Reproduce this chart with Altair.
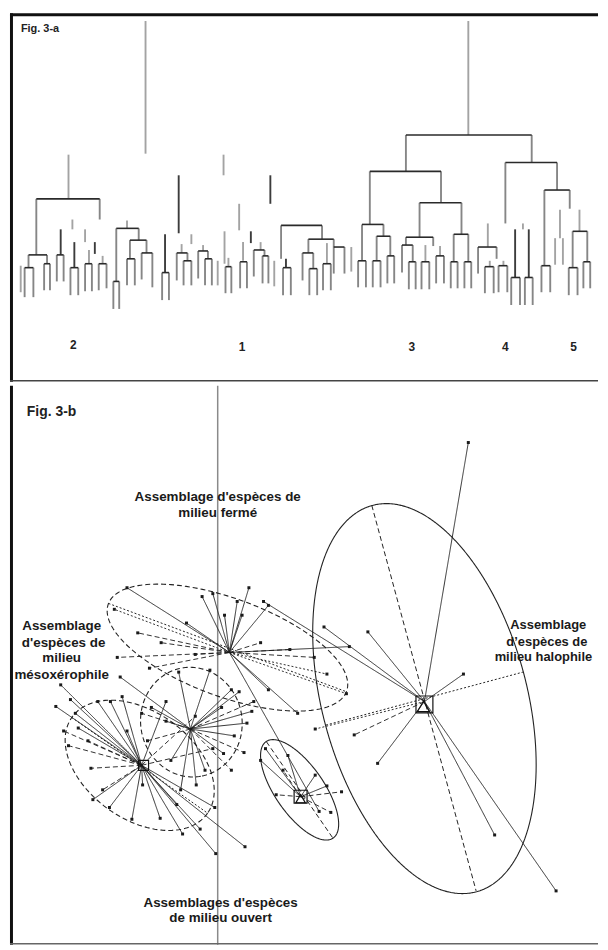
import altair as alt
import numpy as np
import pandas as pd

# page-fitting sizes (608 x 950 window, 8px body margin)
W = 592
H_TOP = 371
H_BOT = 563
X_DOM = [5, 608]

# ---------------- Fig. 3-a : dendrogram ----------------
# single vertical branches: leaf-axis position, upper level, lower level, tone
STEM_X = [144, 475, 65, 224, 178, 272, 69, 82, 92, 125, 164, 191, 240, 225, 252, 244, 218, 276, 355, 531,
          523, 537, 569, 564, 572, 589, 495, 16, 57, 71, 86, 100, 181, 203, 229, 262, 288, 330, 431, 446, 497, 511]
STEM_TOP = [11, 11, 147, 147, 168, 168, 213, 223, 236, 214, 228, 228, 197, 225, 225, 236, 255, 255, 241, 217,
            223, 223, 203, 232, 232, 203, 217, 260, 223, 236, 244, 250, 238, 239, 252, 236, 253, 237, 239, 240, 255, 255]
STEM_BOT = [146, 127, 192, 168, 227, 197, 223, 236, 248, 222, 267, 238, 224, 258, 237, 255, 280, 281, 266, 223,
            272, 272, 232, 259, 259, 225, 241, 287, 249, 262, 258, 258, 247, 245, 261, 244, 262, 258, 256, 250, 261, 260]
STEM_TONE = ["g", "g", "g", "g", "d", "d", "g", "g", "d", "g", "d", "g", "g", "g", "d", "g", "g", "g", "g", "g",
             "d", "d", "g", "g", "g", "g", "g", "g", "d", "d", "g", "g", "g", "g", "g", "g", "d", "g", "g", "g", "g", "g"]

# fusions: left position, right position, fusion level, lower end of left leg, lower end of right leg
LINK_XL = [411, 374, 513, 553, 32, 24, 20, 40, 53, 67, 82, 96, 114, 111, 128, 125, 140, 161, 176, 183, 198, 205,
           226, 241, 255, 264, 283, 285, 311, 305, 312, 326, 337, 366, 362, 381, 377, 392, 425, 411, 407, 414,
           427, 442, 460, 457, 471, 485, 492, 506, 519, 533, 550, 582, 578, 593]
LINK_XR = [540, 447, 566, 579, 97, 43, 29, 46, 60, 75, 89, 104, 137, 117, 145, 133, 151, 168, 187, 191, 208, 212,
           232, 248, 266, 270, 325, 293, 337, 316, 320, 334, 348, 388, 370, 395, 385, 399, 468, 439, 418, 421,
           435, 450, 475, 464, 478, 504, 501, 515, 528, 541, 559, 597, 587, 600]
LINK_Y = [127, 164, 155, 183, 192, 249, 262, 258, 249, 262, 258, 258, 222, 276, 234, 253, 247, 267, 247, 255, 245, 253,
          261, 256, 244, 250, 219, 262, 233, 247, 263, 258, 241, 218, 255, 230, 255, 250, 196, 231, 239, 256,
          256, 250, 228, 256, 256, 241, 261, 260, 272, 272, 260, 225, 262, 256]
LINK_BL = [164, 218, 217, 260, 249, 262, 292, 285, 276, 290, 286, 285, 276, 304, 253, 280, 274, 295, 275, 280, 273, 280,
           288, 283, 271, 278, 253, 290, 247, 275, 290, 285, 268, 255, 282, 255, 282, 278, 231, 239, 267, 284,
           284, 278, 256, 283, 283, 268, 288, 287, 300, 300, 287, 262, 290, 283]
LINK_BR = [155, 196, 183, 202, 213, 258, 292, 285, 276, 290, 286, 283, 234, 304, 247, 280, 282, 295, 255, 280, 253, 280,
           288, 283, 250, 278, 233, 290, 241, 263, 290, 285, 268, 230, 282, 250, 282, 278, 228, 240, 256, 284,
           284, 278, 256, 283, 283, 253, 288, 287, 300, 300, 287, 256, 290, 283]

CLUSTER_LABEL = ["2", "1", "3", "4", "5"]
CLUSTER_X = [70, 243, 417, 513, 583]
CLUSTER_Y = [341, 343, 343, 343, 343]

# ---------------- Fig. 3-b : ordination ----------------
ZERO_X = [218]

GROUP_NAME = ["halophile", "ferme", "meso", "ouvert", "petit"]
CENTROID_X = [430, 230, 190, 140, 303]
CENTROID_Y = [700, 650, 728, 765, 797]

SITE_X_HALO = [475, 327, 372, 470, 358, 382, 565, 502, 265, 318]
SITE_Y_HALO = [436, 624, 629, 672, 734, 763, 893, 836, 598, 728]
SITE_S_HALO = ["s", "s", "s", "s", "d", "s", "s", "s", "s", "o"]

SITE_X_FERME = [125, 250, 202, 225, 243, 262, 186, 136, 115, 353, 317, 148, 270, 322, 112, 350, 292,
                213, 238, 270, 160, 300, 195, 330]
SITE_Y_FERME = [584, 584, 593, 612, 612, 640, 620, 630, 655, 644, 655, 666, 688, 812, 606, 692, 647,
                590, 598, 602, 640, 712, 652, 672]
SITE_S_FERME = ["s", "s", "s", "s", "s", "d", "s", "d", "d", "s", "d", "d", "s", "s", "o", "o", "d",
                "s", "s", "s", "d", "s", "d", "o"]

SITE_X_MESO = [178, 210, 232, 222, 165, 146, 245, 224, 118, 196, 180, 232, 150, 253, 240, 255, 248, 235, 140, 205, 170]
SITE_Y_MESO = [670, 668, 688, 706, 720, 740, 752, 753, 675, 785, 790, 770, 706, 710, 690, 700, 722, 735, 712, 770, 760]
SITE_S_MESO = ["s", "s", "s", "s", "s", "d", "d", "s", "s", "s", "s", "d", "s", "s", "s", "d", "s", "s", "d", "s", "s"]

SITE_X_OUV = [57, 67, 108, 75, 65, 88, 107, 159, 182, 216, 246, 215, 176, 141, 165, 195, 213, 100, 125, 85,
              52, 72, 95, 120, 60, 90, 130, 200]
SITE_Y_OUV = [683, 698, 700, 727, 745, 768, 808, 819, 835, 855, 848, 808, 805, 785, 700, 715, 748, 790, 730, 740,
              705, 712, 700, 695, 730, 800, 820, 830]
SITE_S_OUV = ["s", "s", "s", "s", "d", "d", "s", "s", "s", "s", "s", "s", "s", "s", "s", "d", "d", "d", "s", "d",
              "s", "s", "s", "s", "d", "s", "s", "s"]

SITE_X_PETIT = [267, 285, 330, 334, 345, 278, 318, 262, 290]
SITE_Y_PETIT = [748, 770, 786, 813, 792, 795, 775, 760, 755]
SITE_S_PETIT = ["s", "d", "s", "d", "d", "d", "s", "s", "s"]

# dispersion ellipses: centre, half axes, tilt (degrees), line style
ELL_CX = [430, 228, 191, 138, 302]
ELL_CY = [697, 645, 721, 765, 790]
ELL_A = [204, 130, 56, 85, 60]
ELL_B = [105, 50, 52, 55, 25]
ELL_TILT = [74.8, 20, 80, 35, 55]
ELL_STYLE = ["s", "d", "d", "d", "s"]

# ellipse axes drawn inside
AX_X1 = [376, 329, 106, 68, 268]
AX_Y1 = [500, 724, 600, 716, 741]
AX_X2 = [483, 531, 350, 208, 336]
AX_Y2 = [893, 670, 690, 814, 839]
AX_STYLE = ["d", "o", "o", "o", "d"]

MARK_X = [430, 303, 142]
MARK_Y = [703, 797, 765]
MARK_SIZE = [290, 170, 100]
TRI_X = [429, 303]
TRI_Y = [705, 799]
TRI_SIZE = [150, 90]

LABEL_TEXT = ["Assemblage d'espèces de", "milieu fermé", "Assemblage", "d'espèces de", "milieu",
              "mésoxérophile", "Assemblages d'espèces", "de milieu ouvert"]
LABEL_X = [218, 218, 58, 60, 58, 58, 221, 221]
LABEL_Y = [492, 508, 623, 640, 656, 673, 905, 921]

HALO_TEXT = ["Assemblage", "d’espèces de", "milieu halophile"]
HALO_X = [518, 514, 502]
HALO_Y = [622, 639, 655]

# ---------------- tables ----------------
vert_rows = []
for x, t, b, tone in zip(STEM_X, STEM_TOP, STEM_BOT, STEM_TONE):
    vert_rows.append(dict(x=x, y1=t, y2=b, tone=tone))
for xl, xr, y, bl, br in zip(LINK_XL, LINK_XR, LINK_Y, LINK_BL, LINK_BR):
    vert_rows.append(dict(x=xl, y1=y, y2=bl, tone="m"))
    vert_rows.append(dict(x=xr, y1=y, y2=br, tone="m"))
vdf = pd.DataFrame(vert_rows)
hdf = pd.DataFrame(dict(x1=LINK_XL, x2=LINK_XR, y=LINK_Y))
cdf = pd.DataFrame(dict(label=CLUSTER_LABEL, x=CLUSTER_X, y=CLUSTER_Y))

sites = {
    "halophile": (SITE_X_HALO, SITE_Y_HALO, SITE_S_HALO),
    "ferme": (SITE_X_FERME, SITE_Y_FERME, SITE_S_FERME),
    "meso": (SITE_X_MESO, SITE_Y_MESO, SITE_S_MESO),
    "ouvert": (SITE_X_OUV, SITE_Y_OUV, SITE_S_OUV),
    "petit": (SITE_X_PETIT, SITE_Y_PETIT, SITE_S_PETIT),
}
sp_rows = []
for g, cx, cy in zip(GROUP_NAME, CENTROID_X, CENTROID_Y):
    xs, ys, ss = sites[g]
    for px, py, st in zip(xs, ys, ss):
        sp_rows.append(dict(group=g, cx=cx, cy=cy, px=px, py=py, style=st))
sdf = pd.DataFrame(sp_rows)

t = np.linspace(0, 2 * np.pi, 181)
el_rows = []
for k, (cx, cy, a, b, ang, st) in enumerate(zip(ELL_CX, ELL_CY, ELL_A, ELL_B, ELL_TILT, ELL_STYLE)):
    th = np.deg2rad(ang)
    ex = cx + a * np.cos(t) * np.cos(th) - b * np.sin(t) * np.sin(th)
    ey = cy + a * np.cos(t) * np.sin(th) + b * np.sin(t) * np.cos(th)
    for i, (u, v) in enumerate(zip(ex, ey)):
        el_rows.append(dict(eid=k, i=i, x=u, y=v, style=st))
edf = pd.DataFrame(el_rows)
adf = pd.DataFrame(dict(x1=AX_X1, y1=AX_Y1, x2=AX_X2, y2=AX_Y2, style=AX_STYLE))
mdf = pd.DataFrame(dict(x=MARK_X, y=MARK_Y, s=MARK_SIZE))
tdf = pd.DataFrame(dict(x=TRI_X, y=TRI_Y, s=TRI_SIZE))
ldf = pd.DataFrame(dict(text=LABEL_TEXT, x=LABEL_X, y=LABEL_Y))
hldf = pd.DataFrame(dict(text=HALO_TEXT, x=HALO_X, y=HALO_Y))
zdf = pd.DataFrame(dict(x=ZERO_X))

FONT = "Liberation Sans"
dash_scale = alt.Scale(domain=["s", "d", "o"], range=[[1, 0], [5, 3], [2, 2]])
one = pd.DataFrame({"k": [0]})

# ---------------- top panel ----------------
xs_top = alt.Scale(domain=X_DOM)
ys_top = alt.Scale(domain=[378, 3])

v_layer = alt.Chart(vdf).mark_rule(strokeWidth=1.9).encode(
    x=alt.X("x:Q", scale=xs_top, axis=None),
    y=alt.Y("y1:Q", scale=ys_top, axis=None),
    y2="y2:Q",
    color=alt.Color("tone:N", scale=alt.Scale(domain=["g", "m", "d"], range=["#a3a3a3", "#868686", "#3c3c3c"]),
                    legend=None),
)
h_layer = alt.Chart(hdf).mark_rule(strokeWidth=1.6, color="#2a2a2a").encode(
    x=alt.X("x1:Q", scale=xs_top, axis=None), x2="x2:Q",
    y=alt.Y("y:Q", scale=ys_top, axis=None),
)
clabels = alt.Chart(cdf).mark_text(font=FONT, fontWeight="bold", fontSize=12, color="#222").encode(
    x=alt.X("x:Q", scale=xs_top, axis=None), y=alt.Y("y:Q", scale=ys_top, axis=None), text="label:N"
)
fig_a = alt.Chart(one).mark_text(text="Fig. 3-a", font=FONT, fontWeight="bold", fontSize=11,
                                 align="left", color="#222").encode(x=alt.value(11), y=alt.value(16))
top_border = alt.Chart(one).mark_rule(color="#111", strokeWidth=3).encode(
    x=alt.value(0), x2=alt.value(W), y=alt.value(1.5))
left_border_t = alt.Chart(one).mark_rule(color="#111", strokeWidth=3).encode(
    x=alt.value(1.5), y=alt.value(0), y2=alt.value(H_TOP))
divider = alt.Chart(one).mark_rule(color="#444", strokeWidth=1.5).encode(
    x=alt.value(0), x2=alt.value(W), y=alt.value(H_TOP - 1))

top = alt.layer(v_layer, h_layer, clabels, fig_a, top_border, left_border_t, divider).properties(
    width=W, height=H_TOP)

# ---------------- bottom panel ----------------
xs_b = alt.Scale(domain=X_DOM)
ys_b = alt.Scale(domain=[948, 378])

zero_line = alt.Chart(zdf).mark_rule(color="#8a8a8a", strokeWidth=1.5).encode(
    x=alt.X("x:Q", scale=xs_b, axis=None), y=alt.value(0), y2=alt.value(H_BOT))
ellipses = alt.Chart(edf).mark_line(strokeWidth=1.1, color="#222").encode(
    x=alt.X("x:Q", scale=xs_b, axis=None), y=alt.Y("y:Q", scale=ys_b, axis=None),
    detail="eid:N", order="i:Q",
    strokeDash=alt.StrokeDash("style:N", scale=dash_scale, legend=None),
)
axes_l = alt.Chart(adf).mark_rule(strokeWidth=1, color="#222").encode(
    x=alt.X("x1:Q", scale=xs_b, axis=None), y=alt.Y("y1:Q", scale=ys_b, axis=None),
    x2="x2:Q", y2="y2:Q",
    strokeDash=alt.StrokeDash("style:N", scale=dash_scale, legend=None),
)
spokes = alt.Chart(sdf).mark_rule(strokeWidth=0.9, color="#1a1a1a").encode(
    x=alt.X("cx:Q", scale=xs_b, axis=None), y=alt.Y("cy:Q", scale=ys_b, axis=None),
    x2="px:Q", y2="py:Q",
    strokeDash=alt.StrokeDash("style:N", scale=dash_scale, legend=None),
)
pts = alt.Chart(sdf).mark_point(shape="square", size=9, filled=True, color="#1a1a1a", opacity=1).encode(
    x=alt.X("px:Q", scale=xs_b, axis=None), y=alt.Y("py:Q", scale=ys_b, axis=None))
sq = alt.Chart(mdf).mark_point(shape="square", filled=False, color="#111", strokeWidth=1.2, opacity=1).encode(
    x=alt.X("x:Q", scale=xs_b, axis=None), y=alt.Y("y:Q", scale=ys_b, axis=None),
    size=alt.Size("s:Q", scale=None, legend=None))
tri = alt.Chart(tdf).mark_point(shape="triangle-up", filled=False, color="#111", strokeWidth=1.2, opacity=1).encode(
    x=alt.X("x:Q", scale=xs_b, axis=None), y=alt.Y("y:Q", scale=ys_b, axis=None),
    size=alt.Size("s:Q", scale=None, legend=None))
labels = alt.Chart(ldf).mark_text(font=FONT, fontWeight="bold", fontSize=13.5, color="#1a1a1a",
                                  clip=True).encode(
    x=alt.X("x:Q", scale=xs_b, axis=None), y=alt.Y("y:Q", scale=ys_b, axis=None), text="text:N")
halo = alt.Chart(hldf).mark_text(font=FONT, fontWeight="bold", fontSize=13, color="#1a1a1a",
                                 align="left").encode(
    x=alt.X("x:Q", scale=xs_b, axis=None), y=alt.Y("y:Q", scale=ys_b, axis=None), text="text:N")
fig_b = alt.Chart(one).mark_text(text="Fig. 3-b", font=FONT, fontWeight="bold", fontSize=14,
                                 align="left", color="#222").encode(x=alt.value(17), y=alt.value(27))
left_border_b = alt.Chart(one).mark_rule(color="#111", strokeWidth=3).encode(
    x=alt.value(1.5), y=alt.value(0), y2=alt.value(H_BOT))
bottom_border = alt.Chart(one).mark_rule(color="#666", strokeWidth=1.5).encode(
    x=alt.value(0), x2=alt.value(W), y=alt.value(H_BOT - 1))

bottom = alt.layer(zero_line, ellipses, axes_l, spokes, pts, sq, tri, labels, halo, fig_b,
                   left_border_b, bottom_border).properties(width=W, height=H_BOT)

chart = alt.vconcat(top, bottom, spacing=0, padding=0).configure_view(stroke=None)
chart.save("out.html", embed_options={"renderer": "svg", "actions": False})
